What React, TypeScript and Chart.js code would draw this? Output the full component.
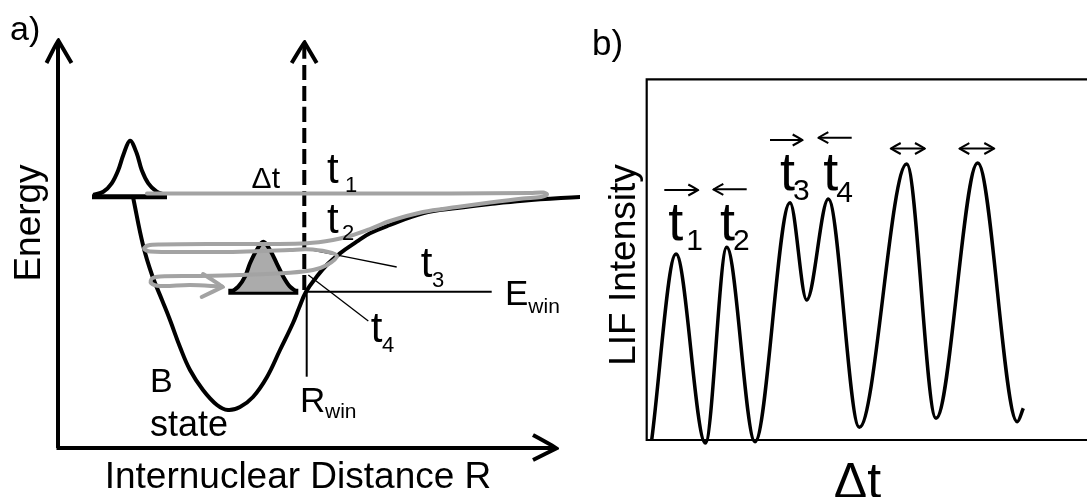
import React, { useEffect, useRef } from "react";
import { Chart, registerables } from "chart.js";

Chart.register(...registerables);

const FONT = '"Liberation Sans", Arial, Helvetica, sans-serif';

// ---------------- Panel a) : potential energy curve (R, E in arbitrary units) ----------------
const potentialR = [7.5, 8.5, 9.4, 10.4, 11.2, 12.2, 13.2, 14.5, 15.9, 17.0, 18.2, 19.5, 20.9, 22.2, 23.5, 24.1, 24.8, 25.87, 26.87, 28.2, 29.87, 31.2, 33.2, 36.5, 39.9, 43.2, 46.5, 52.5];
const potentialE = [25.1, 20.3, 17.3, 14.8, 12.8, 10.1, 7.8, 5.8, 4.3, 3.8, 4.1, 5.1, 7.1, 9.8, 12.5, 14.0, 15.63, 17.13, 18.3, 19.47, 20.63, 21.47, 22.3, 23.47, 24.0, 24.4, 24.73, 25.13];

// initial wavepacket (outline)
const packet1R = [3.53, 4.53, 5.37, 6.03, 6.53, 7.2, 7.87, 8.37, 9.03, 9.87, 10.53];
const packet1E = [25.3, 25.63, 26.47, 27.8, 29.3, 30.73, 29.47, 27.8, 26.47, 25.63, 25.4];
const packet1BaseR = [3.4, 10.9];
const packet1BaseE = 25.13;

// wavepacket at the window (grey filled)
const packet2R = [17.37, 18.03, 18.7, 19.2, 19.87, 20.53, 21.2, 21.87, 22.53, 23.2, 23.87];
const packet2E = [15.63, 16.13, 17.13, 18.47, 19.8, 20.63, 19.8, 18.47, 17.13, 16.13, 15.63];
const packet2BaseR = [17.03, 24.03];
const packet2BaseE = 15.63;

// grey trajectory of the wavepacket
const pathR = [8.9, 24.2, 39.2, 47.2, 48.5, 48.9, 48.3, 46.5, 43.2, 39.9, 36.5, 33.2, 31.2, 29.2, 27.5, 24.9, 21.2, 16.2, 10.2, 9.0, 8.6, 9.2, 14.2, 18.2, 23.2, 24.9, 26.9, 27.9, 26.9, 25.5, 23.2, 18.2, 14.2, 10.2, 9.4, 9.3, 10.2, 13.2, 16.4];
const pathE = [25.45, 25.45, 25.45, 25.5, 25.55, 25.35, 25.1, 24.95, 24.55, 24.1, 23.6, 22.7, 21.9, 21.2, 20.8, 20.47, 20.4, 20.4, 20.35, 20.25, 19.95, 19.65, 19.6, 19.63, 19.8, 19.87, 19.63, 19.2, 18.3, 17.8, 17.53, 17.3, 17.2, 17.15, 16.95, 16.5, 16.2, 16.3, 16.15];
const pathHeadR = [14.5, 16.5, 14.37];
const pathHeadE = [17.4, 16.13, 15.1];

// axes arrows
const axisYR = [0, 0];
const axisYE = [0, 40.6];
const axisYHeadR = [-1.15, 0, 1.35];
const axisYHeadE = [38.5, 40.8, 38.5];
const axisXR = [-0.15, 49.6];
const axisXE = [0, 0];
const axisXHeadR = [47.5, 49.9, 47.5];
const axisXHeadE = [1.3, 0, -1.2];

// dashed probe arrow, window lines, pointers
const probeR = [24.63, 24.63];
const probeE = [15.8, 40.2];
const probeHeadR = [23.37, 24.63, 25.87];
const probeHeadE = [38.5, 40.6, 38.5];
const eWinR = [24.87, 43.37];
const eWinE = [15.63, 15.63];
const rWinR = [24.87, 24.87];
const rWinE = [15.63, 7.13];
const pointer3R = [25.03, 33.87];
const pointer3E = [19.87, 18.1];
const pointer4R = [25.03, 31.03];
const pointer4E = [17.3, 12.7];

const labelsA = [
  { t: "a)", x: -4.8, y: 40.8, size: 34 },
  { t: "Energy", x: -1.8, y: 22.5, size: 37, align: "center", rot: true },
  { t: "Internuclear Distance R", x: 24.0, y: -4.0, size: 37, align: "center" },
  { t: "\u0394t", x: 20.78, y: 25.97, size: 30, align: "center" },
  { t: "t", x: 26.9, y: 26.5, size: 42 },
  { t: "1", x: 28.7, y: 25.6, size: 22 },
  { t: "t", x: 26.9, y: 21.5, size: 42 },
  { t: "2", x: 28.4, y: 20.8, size: 22 },
  { t: "t", x: 36.27, y: 17.13, size: 42 },
  { t: "3", x: 37.4, y: 16.13, size: 22 },
  { t: "t", x: 31.27, y: 10.63, size: 42 },
  { t: "4", x: 32.4, y: 9.63, size: 22 },
  { t: "E", x: 44.7, y: 14.3, size: 35 },
  { t: "win", x: 47.03, y: 13.47, size: 21 },
  { t: "R", x: 24.2, y: 3.63, size: 35 },
  { t: "win", x: 26.7, y: 2.97, size: 21 },
  { t: "B", x: 9.2, y: 5.63, size: 34 },
  { t: "state", x: 9.2, y: 1.2, size: 36 },
];

// ---------------- Panel b) : LIF intensity vs delay ----------------
const delayValues = [0.5, 2.93, 5.87, 8.0, 10.83, 14.33, 16.0, 18.16, 21.26, 26.0, 28.93, 33.1, 37.06, 37.66];
const lifValues = [0, 18.6, -0.3, 19.27, -0.17, 23.73, 14.0, 24.1, 1.27, 27.6, 2.17, 27.7, 1.83, 3.17];
const boxX = [44.6, 0, 0, 44.6];
const boxY = [36.07, 36.07, 0, 0];

const arrowStartX = [1.76, 6.66, 12.33, 17.16, 24.4, 31.26];
const arrowEndX = [5.16, 10.0, 15.6, 20.5, 27.83, 34.76];
const arrowLevel = [25.0, 25.07, 30.0, 30.23, 29.15, 29.15];
const arrowKind = ["right", "left", "right", "left", "both", "both"];

const labelsB = [
  { t: "b)", x: -5.47, y: 38.5, size: 35 },
  { t: "LIF Intensity", x: -1.17, y: 17.5, size: 37, align: "center", rot: true },
  { t: "\u0394t", x: 21.08, y: -5.8, size: 50, align: "center" },
  { t: "t", x: 2.16, y: 20.0, size: 54 },
  { t: "1", x: 3.96, y: 19.0, size: 30 },
  { t: "t", x: 7.33, y: 20.0, size: 54 },
  { t: "2", x: 8.63, y: 19.0, size: 30 },
  { t: "t", x: 13.33, y: 25.0, size: 54 },
  { t: "3", x: 14.63, y: 24.0, size: 30 },
  { t: "t", x: 17.66, y: 25.0, size: 54 },
  { t: "4", x: 18.96, y: 23.83, size: 30 },
];

// ---------------- helpers ----------------
const pts = (xs: number[], ys: number[] | number) =>
  xs.map((x, i) => ({ x, y: Array.isArray(ys) ? ys[i] : ys }));

const line = (data: any[], color: string, width: number, extra: any = {}) => ({
  data,
  borderColor: color,
  borderWidth: width,
  pointRadius: 0,
  pointHoverRadius: 0,
  pointHitRadius: 0,
  fill: false,
  tension: 0.0001,
  clip: false,
  borderJoinStyle: "miter",
  ...extra,
});

const textPlugin = (labels: any[]) => ({
  id: "texts",
  afterDatasetsDraw(chart: any) {
    const ctx = chart.ctx;
    const xs = chart.scales.x;
    const ys = chart.scales.y;
    ctx.save();
    ctx.fillStyle = "#000";
    ctx.textBaseline = "alphabetic";
    for (const l of labels) {
      const px = xs.getPixelForValue(l.x);
      const py = ys.getPixelForValue(l.y);
      ctx.font = `${l.size}px ${FONT}`;
      ctx.textAlign = l.align || "left";
      if (l.rot) {
        ctx.save();
        ctx.translate(px, py);
        ctx.rotate(-Math.PI / 2);
        ctx.fillText(l.t, 0, 0);
        ctx.restore();
      } else {
        ctx.fillText(l.t, px, py);
      }
    }
    ctx.restore();
  },
});

const baseOptions = (xmin: number, xmax: number, ymin: number, ymax: number) => ({
  responsive: false,
  maintainAspectRatio: false,
  animation: false,
  devicePixelRatio: 1,
  events: [],
  layout: { padding: 0 },
  plugins: { legend: { display: false }, tooltip: { enabled: false } },
  scales: {
    x: { type: "linear", min: xmin, max: xmax, display: false },
    y: { type: "linear", min: ymin, max: ymax, display: false },
  },
});

function leftConfig(): any {
  const grey = "#a3a3a3";
  const datasets = [
    line(pts(pathHeadR, pathHeadE), grey, 4, { borderCapStyle: "round" }),
    line(pts(pathR, pathE), grey, 4, { tension: 0.35, borderCapStyle: "round", borderJoinStyle: "round" }),
    line(pts(pointer3R, pointer3E), "#000", 1.3),
    line(pts(pointer4R, pointer4E), "#000", 1.3),
    line(pts(packet2R, packet2E), "#000", 4, {
      tension: 0.35,
      fill: { value: packet2BaseE },
      backgroundColor: "#ababab",
      borderJoinStyle: "round",
    }),
    line(pts(packet2BaseR, packet2BaseE), "#000", 6),
    line(pts(packet1R, packet1E), "#000", 4, { tension: 0.35, borderJoinStyle: "round" }),
    line(pts(packet1BaseR, packet1BaseE), "#000", 5),
    line(pts(potentialR, potentialE), "#000", 4, { tension: 0.4, borderJoinStyle: "round" }),
    line(pts(probeR, probeE), "#000", 4, { borderDash: [15, 6] }),
    line(pts(probeHeadR, probeHeadE), "#000", 4),
    line(pts(eWinR, eWinE), "#000", 2),
    line(pts(rWinR, rWinE), "#000", 2),
    line(pts(axisYR, axisYE), "#000", 4),
    line(pts(axisYHeadR, axisYHeadE), "#000", 4),
    line(pts(axisXR, axisXE), "#000", 4),
    line(pts(axisXHeadR, axisXHeadE), "#000", 4),
  ];
  return {
    type: "line",
    data: { datasets },
    options: baseOptions(-5.8, 52.2, -4.9, 44.8),
    plugins: [textPlugin(labelsA)],
  };
}

function rightConfig(): any {
  const datasets: any[] = [
    line(pts(delayValues, lifValues), "#000", 3.5, { cubicInterpolationMode: "monotone", tension: 0, borderJoinStyle: "round" }),
    line(pts(boxX, boxY), "#000", 2.2),
  ];
  const hw = 1.0;
  const hh = 0.55;
  arrowStartX.forEach((x0, i) => {
    const x1 = arrowEndX[i];
    const y = arrowLevel[i];
    const kind = arrowKind[i];
    datasets.push(line(pts([x0, x1], y), "#000", 2));
    if (kind === "right" || kind === "both") {
      datasets.push(line(pts([x1 - hw, x1, x1 - hw], [y + hh, y, y - hh]), "#000", 2));
    }
    if (kind === "left" || kind === "both") {
      datasets.push(line(pts([x0 + hw, x0, x0 + hw], [y + hh, y, y - hh]), "#000", 2));
    }
  });
  return {
    type: "line",
    data: { datasets },
    options: baseOptions(-6.67, 44.03, -5.7, 44.0),
    plugins: [textPlugin(labelsB)],
  };
}

export default function App() {
  const leftRef = useRef<HTMLCanvasElement>(null);
  const rightRef = useRef<HTMLCanvasElement>(null);

  useEffect(() => {
    const c1 = new Chart(leftRef.current as HTMLCanvasElement, leftConfig());
    const c2 = new Chart(rightRef.current as HTMLCanvasElement, rightConfig());
    return () => {
      c1.destroy();
      c2.destroy();
    };
  }, []);

  return (
    <div
      style={{
        position: "fixed",
        left: 0,
        top: 0,
        width: 1087,
        height: 497,
        background: "#ffffff",
        overflow: "hidden",
      }}
    >
      <canvas
        ref={leftRef}
        width={580}
        height={497}
        style={{ position: "absolute", left: 0, top: 0, width: 580, height: 497 }}
      />
      <canvas
        ref={rightRef}
        width={507}
        height={497}
        style={{ position: "absolute", left: 580, top: 0, width: 507, height: 497 }}
      />
    </div>
  );
}
